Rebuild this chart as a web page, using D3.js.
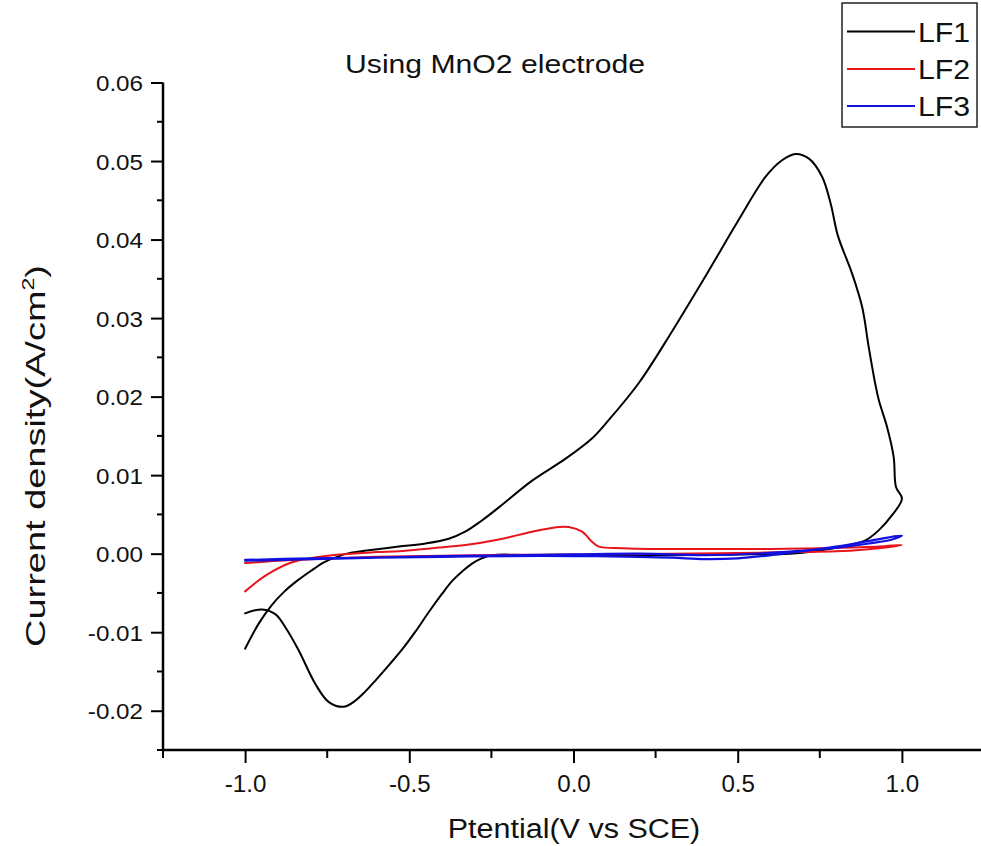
<!DOCTYPE html>
<html>
<head>
<meta charset="utf-8">
<script src="https://cdn.jsdelivr.net/npm/d3@7"></script>
<style>
  html, body { margin: 0; padding: 0; background: #fff; }
  svg text { font-family: "Liberation Sans", Arial, Helvetica, sans-serif; fill: #111; }
</style>
</head>
<body>
<svg id="chart" width="981" height="846"></svg>
<script>
// ---------------- DATA ----------------
const seriesNames = ["LF1", "LF2", "LF3"];
const seriesColors = ["#000000", "#e8141c", "#1010e0"];

// LF1 (black): anodic sweep -1 -> 1 then cathodic sweep 1 -> -1
const lf1X = [-1.0, -0.96, -0.92, -0.88, -0.84, -0.8, -0.76, -0.72, -0.68, -0.63, -0.532, -0.45, -0.38, -0.33, -0.28, -0.227, -0.126, -0.024, 0.057, 0.107, 0.2, 0.3, 0.4, 0.5, 0.585, 0.635, 0.676, 0.717, 0.757, 0.783, 0.805, 0.848, 0.879, 0.899, 0.919, 0.93, 0.955, 0.975, 0.982, 1.0,
  0.97, 0.93, 0.889, 0.85, 0.81, 0.75, 0.66, 0.5, 0.3, 0.1, -0.1, -0.25, -0.28, -0.31, -0.34, -0.37, -0.40, -0.44, -0.481, -0.52, -0.56, -0.6, -0.635, -0.67, -0.7, -0.745, -0.786, -0.837, -0.877, -0.908, -0.948, -1.0];
const lf1Y = [-0.0121, -0.0090, -0.0066, -0.0048, -0.0034, -0.0022, -0.0011, -0.0004, 0.0001, 0.0004, 0.0009, 0.0013, 0.0019, 0.0028, 0.0042, 0.0059, 0.0093, 0.0121, 0.0147, 0.017, 0.0218, 0.0283, 0.0352, 0.0423, 0.048, 0.0501, 0.0509, 0.0503, 0.048, 0.0446, 0.0405, 0.0357, 0.0314, 0.0263, 0.0216, 0.0195, 0.0161, 0.0123, 0.0085, 0.007,
  0.0049, 0.003, 0.0017, 0.0012, 0.0008, 0.0004, 0.0, -0.0001, -0.0002, -0.0002, -0.0002, -0.0002, -0.0006, -0.0013, -0.0023, -0.0035, -0.0051, -0.0074, -0.0099, -0.0121, -0.0141, -0.0160, -0.0176, -0.0189, -0.0195, -0.0189, -0.0166, -0.0123, -0.0094, -0.0077, -0.0071, -0.0076];

// LF2 (red)
const lf2X = [-1.0, -0.938, -0.857, -0.735, -0.6, -0.532, -0.43, -0.329, -0.227, -0.126, -0.045, -0.014, 0.026, 0.057, 0.077, 0.15, 0.23, 0.4, 0.6, 0.75, 0.85, 0.93, 1.0,
  0.95, 0.88, 0.8, 0.7, 0.5, 0.3, 0.0, -0.3, -0.6, -0.8, -0.9, -1.0];
const lf2Y = [-0.0048, -0.0028, -0.0011, -0.0002, 0.0002, 0.0003, 0.0007, 0.0011, 0.0018, 0.0028, 0.0034, 0.0034, 0.0028, 0.0015, 0.0009, 0.0007, 0.0006, 0.0006, 0.0006, 0.0007, 0.0008, 0.0009, 0.0011,
  0.0008, 0.0005, 0.0003, 0.0002, 0.0001, 0.0, -0.0001, -0.0002, -0.0004, -0.0007, -0.0009, -0.0012];

// LF3 (blue)
const lf3X = [-1.0, -0.8, -0.6, -0.4, -0.2, 0.0, 0.2, 0.3, 0.4, 0.5, 0.6, 0.71, 0.8, 0.91, 1.0,
  0.97, 0.9, 0.81, 0.7, 0.6, 0.4, 0.2, 0.0, -0.2, -0.4, -0.6, -0.8, -1.0];
const lf3Y = [-0.0009, -0.0007, -0.0005, -0.0004, -0.0003, -0.0003, -0.0004, -0.0005, -0.0007, -0.0006, -0.0002, 0.0004, 0.0009, 0.0017, 0.0023,
  0.0018, 0.0013, 0.0008, 0.0004, 0.0001, -0.0002, 0.0, -0.0001, -0.0002, -0.0003, -0.0005, -0.0006, -0.0008];

const xMajorTicks = [-1.0, -0.5, 0.0, 0.5, 1.0];
const xMinorTicks = [-1.25, -0.75, -0.25, 0.25, 0.75];
const yMajorTicks = [-0.02, -0.01, 0.0, 0.01, 0.02, 0.03, 0.04, 0.05, 0.06];
const yMinorTicks = [-0.025, -0.015, -0.005, 0.005, 0.015, 0.025, 0.035, 0.045, 0.055];

const titleText = "Using MnO2 electrode";
const xTitleText = "Ptential(V vs SCE)";

// ---------------- CHART ----------------
const svg = d3.select("#chart");
const x = d3.scaleLinear().domain([-1.25, 1.25]).range([163, 984]);
const y = d3.scaleLinear().domain([-0.025, 0.06]).range([750, 82.5]);

// curves
const series = [
  { name: seriesNames[0], color: seriesColors[0], xs: lf1X, ys: lf1Y, w: 2 },
  { name: seriesNames[1], color: seriesColors[1], xs: lf2X, ys: lf2Y, w: 2 },
  { name: seriesNames[2], color: seriesColors[2], xs: lf3X, ys: lf3Y, w: 2.2 }
];
const line = d3.line().x(d => x(d[0])).y(d => y(d[1])).curve(d3.curveCatmullRom.alpha(0.5));
const plot = svg.append("g");
series.forEach(s => {
  const pts = s.xs.map((v, i) => [v, s.ys[i]]);
  plot.append("path").datum(pts)
    .attr("d", line).attr("fill", "none")
    .attr("stroke", s.color).attr("stroke-width", s.w)
    .attr("stroke-linejoin", "round").attr("stroke-linecap", "round");
});

// y axis
const yAxisG = svg.append("g").attr("transform", "translate(163,0)");
yAxisG.call(d3.axisLeft(y).tickValues(yMajorTicks).tickSize(12).tickSizeOuter(0).tickFormat(d => d.toFixed(2)));
yAxisG.select(".domain").attr("stroke-width", 2.5).attr("d", `M0,${y(0.06)}V750`);
yAxisG.selectAll(".tick line").attr("stroke-width", 2);
yAxisG.selectAll(".tick text")
  .attr("x", null).attr("dy", null)
  .attr("transform", "translate(-20,8) scale(1.1,1)")
  .style("font-size", "22px").attr("fill", "#111");
yAxisG.selectAll(".minor").data(yMinorTicks).enter().append("line")
  .attr("x1", -6).attr("x2", 0).attr("y1", d => y(d)).attr("y2", d => y(d))
  .attr("stroke", "#000").attr("stroke-width", 2);

// x axis
const xAxisG = svg.append("g").attr("transform", "translate(0,750)");
xAxisG.call(d3.axisBottom(x).tickValues(xMajorTicks).tickSize(13).tickSizeOuter(0).tickFormat(d => d.toFixed(1)));
xAxisG.select(".domain").attr("stroke-width", 2.5).attr("d", `M162,0H984`);
xAxisG.selectAll(".tick line").attr("stroke-width", 2);
xAxisG.selectAll(".tick text")
  .attr("y", null).attr("dy", null)
  .attr("transform", "translate(0,42) scale(1.05,1)")
  .style("font-size", "23px").attr("fill", "#111");
xAxisG.selectAll(".minor").data(xMinorTicks).enter().append("line")
  .attr("x1", d => x(d)).attr("x2", d => x(d)).attr("y1", 0).attr("y2", 8)
  .attr("stroke", "#000").attr("stroke-width", 2);

// title
svg.append("text").attr("transform", "translate(495,73) scale(1.16,1)")
  .attr("text-anchor", "middle").style("font-size", "26px").text(titleText);

// x title
svg.append("text").attr("transform", "translate(574,838) scale(1.13,1)")
  .attr("text-anchor", "middle").style("font-size", "27px").text(xTitleText);

// y title
const yt = svg.append("text").attr("transform", "translate(45,456) rotate(-90)")
  .attr("text-anchor", "middle").style("font-size", "28px").attr("textLength", 382).attr("lengthAdjust", "spacingAndGlyphs");
yt.append("tspan").text("Current density(A/cm");
yt.append("tspan").attr("dy", -11).style("font-size", "17px").text("2");
yt.append("tspan").attr("dy", 11).text(")");

// legend
const lg = svg.append("g");
lg.append("rect").attr("x", 842).attr("y", 3).attr("width", 135).attr("height", 124)
  .attr("fill", "#fff").attr("stroke", "#222").attr("stroke-width", 1.5);
const legY = [31.5, 69, 106];
series.forEach((s, i) => {
  lg.append("line").attr("x1", 847).attr("x2", 915).attr("y1", legY[i]).attr("y2", legY[i])
    .attr("stroke", s.color).attr("stroke-width", 2);
  lg.append("text").attr("transform", `translate(918,${legY[i] + 10}) scale(1.08,1)`)
    .style("font-size", "28px").text(s.name);
});
</script>
</body>
</html>
